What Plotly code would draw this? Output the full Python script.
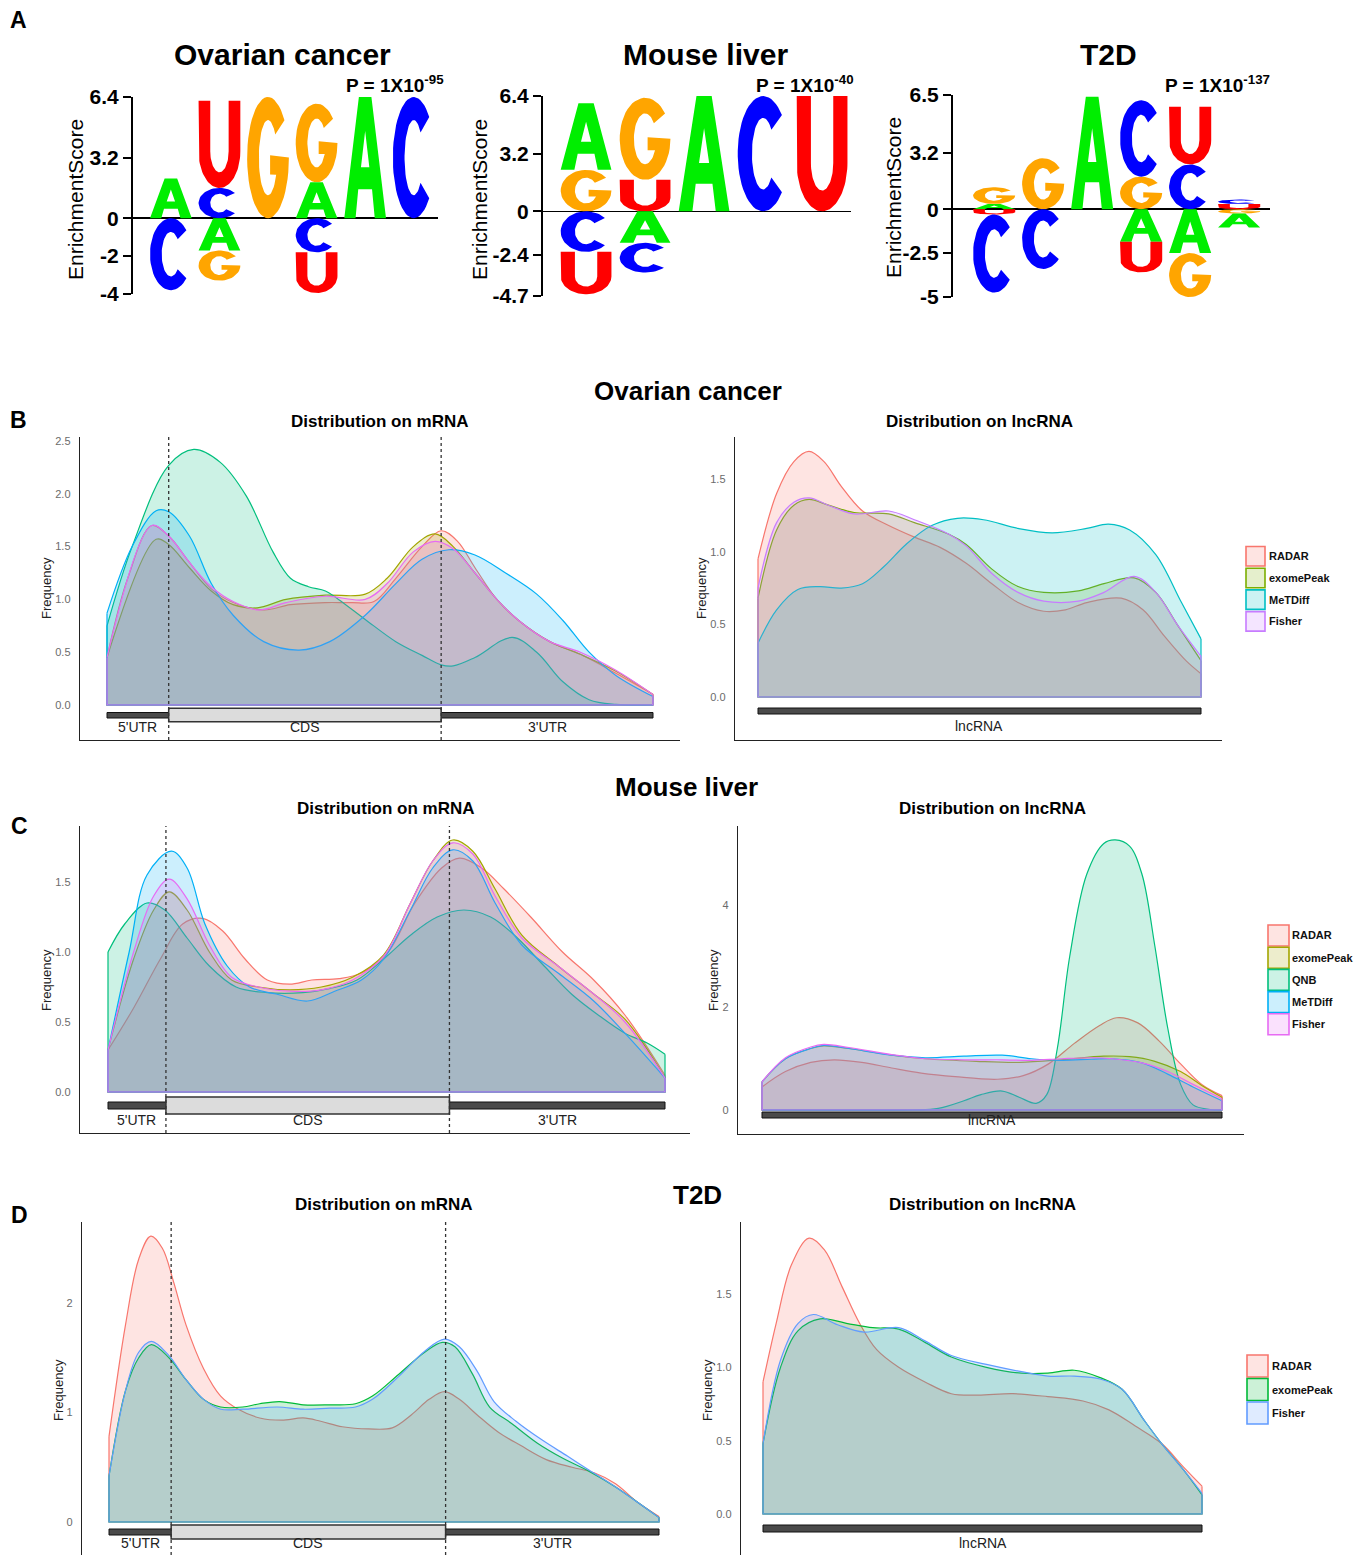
import numpy as np
import plotly.graph_objects as go

W, H = 1366, 1555
SANS = "Liberation Sans, Arial, Helvetica, sans-serif"

# ======================= DATA =======================
# ---- Panel A: motif logos (signed letter heights; + stacks up, - stacks down, in list order)
LETTER_COLORS = {"A": "#00EE00", "C": "#0000FF", "G": "#FFA500", "U": "#FF0000"}

ov_pos = [1, 1, 2, 2, 2, 2, 3, 4, 4, 4, 4, 5, 6]
ov_let = ["A", "C", "C", "U", "A", "G", "G", "A", "G", "C", "U", "A", "C"]
ov_hgt = [2.1, -3.8, 1.6, 4.6, -1.7, -1.6, 6.4, 1.9, 4.15, -1.8, -2.15, 6.4, 6.4]
ov_ticks = [-4, -2, 0, 3.2, 6.4]

ml_pos = [1, 1, 1, 1, 2, 2, 2, 2, 3, 4, 5]
ml_let = ["G", "A", "C", "U", "U", "G", "A", "C", "A", "C", "U"]
ml_hgt = [2.3, 3.7, -2.25, -2.35, 1.75, 4.55, -1.75, -1.65, 6.4, 6.4, 6.4]
ml_ticks = [-4.7, -2.4, 0, 3.2, 6.4]

t2_pos = [1, 1, 1, 1, 2, 2, 3, 4, 4, 4, 4, 5, 5, 5, 5, 6, 6, 6, 6]
t2_let = ["A", "G", "U", "C", "G", "C", "A", "G", "C", "A", "U", "C", "U", "A", "G", "U", "C", "G", "A"]
t2_hgt = [0.3, 0.95, -0.3, -4.45, 2.9, -3.4, 6.4, 1.85, 4.35, -1.85, -1.75,
          2.55, 3.28, -2.5, -2.5, 0.3, 0.25, -0.25, -0.8]
t2_ticks = [-5, -2.5, 0, 3.2, 6.5]

logo_titles = ["Ovarian cancer", "Mouse liver", "T2D"]
logo_pvals = ["P = 1X10<sup>-95</sup>", "P = 1X10<sup>-40</sup>", "P = 1X10<sup>-137</sup>"]

# ---- Panels B-D: metagene density (relative position 0..1, frequency)
PAL5 = ["#F8766D", "#A3A500", "#00BF7D", "#00B0F6", "#E76BF3"]
PAL4 = ["#F8766D", "#7CAE00", "#00BFC4", "#C77CFF"]
PAL3 = ["#F8766D", "#00BA38", "#619CFF"]

B_mrna_bounds = [0.113, 0.612]
B_mrna = {
    "RADAR": [(0, 0.45), (0.038, 1.2), (0.082, 1.7), (0.113, 1.6), (0.151, 1.35), (0.191, 1.1), (0.231, 0.97),
              (0.287, 0.9), (0.336, 0.95), (0.400, 0.97), (0.448, 0.97), (0.489, 0.98), (0.529, 1.2), (0.577, 1.5),
              (0.612, 1.65), (0.642, 1.55), (0.674, 1.3), (0.714, 1.0), (0.754, 0.8), (0.811, 0.6), (0.867, 0.48),
              (0.932, 0.3), (1.0, 0.1)],
    "exomePeak": [(0, 0.45), (0.090, 1.57), (0.113, 1.52), (0.151, 1.3), (0.191, 1.08), (0.231, 0.95), (0.275, 0.92),
                  (0.328, 1.0), (0.400, 1.04), (0.473, 1.05), (0.513, 1.2), (0.561, 1.5), (0.601, 1.62), (0.634, 1.5),
                  (0.674, 1.25), (0.714, 1.0), (0.754, 0.8), (0.811, 0.6), (0.867, 0.48), (0.932, 0.32), (1.0, 0.1)],
    "QNB": [(0, 0.75), (0.046, 1.5), (0.113, 2.27), (0.159, 2.42), (0.207, 2.3), (0.255, 1.98), (0.304, 1.45),
            (0.336, 1.2), (0.369, 1.12), (0.400, 1.08), (0.424, 1.0), (0.473, 0.81), (0.529, 0.6), (0.577, 0.47),
            (0.612, 0.38), (0.634, 0.37), (0.674, 0.45), (0.742, 0.64), (0.787, 0.5), (0.835, 0.22), (0.883, 0.05),
            (0.932, 0.005), (1.0, 0.0)],
    "MeTDiff": [(0, 0.87), (0.046, 1.5), (0.090, 1.84), (0.113, 1.83), (0.151, 1.6), (0.191, 1.15), (0.231, 0.85),
                (0.287, 0.6), (0.352, 0.52), (0.408, 0.6), (0.473, 0.85), (0.529, 1.15), (0.577, 1.38), (0.626, 1.47),
                (0.674, 1.42), (0.730, 1.25), (0.787, 1.05), (0.835, 0.8), (0.883, 0.5), (0.932, 0.28), (1.0, 0.08)],
    "Fisher": [(0, 0.45), (0.082, 1.7), (0.113, 1.6), (0.151, 1.35), (0.191, 1.12), (0.231, 0.98), (0.279, 0.9),
               (0.328, 0.97), (0.400, 1.03), (0.473, 1.0), (0.513, 1.15), (0.561, 1.45), (0.601, 1.55), (0.634, 1.48),
               (0.674, 1.25), (0.714, 1.0), (0.754, 0.8), (0.811, 0.6), (0.867, 0.5), (0.932, 0.33), (1.0, 0.1)],
}

B_lnc = {
    "RADAR": [(0, 0.95), (0.042, 1.4), (0.081, 1.62), (0.115, 1.69), (0.149, 1.62), (0.188, 1.45), (0.236, 1.28),
              (0.295, 1.18), (0.353, 1.1), (0.411, 1.03), (0.470, 0.92), (0.528, 0.78), (0.587, 0.65), (0.645, 0.59),
              (0.694, 0.6), (0.742, 0.65), (0.820, 0.68), (0.869, 0.6), (0.917, 0.42), (0.966, 0.25), (1.0, 0.16)],
    "exomePeak": [(0, 0.68), (0.042, 1.15), (0.081, 1.32), (0.115, 1.36), (0.159, 1.32), (0.217, 1.27), (0.295, 1.26),
                  (0.353, 1.2), (0.431, 1.12), (0.470, 1.05), (0.528, 0.88), (0.587, 0.76), (0.645, 0.72),
                  (0.723, 0.73), (0.781, 0.78), (0.849, 0.82), (0.898, 0.72), (0.946, 0.5), (1.0, 0.25)],
    "MeTDiff": [(0, 0.37), (0.042, 0.6), (0.090, 0.74), (0.139, 0.76), (0.188, 0.75), (0.236, 0.78), (0.285, 0.9),
                (0.334, 1.05), (0.392, 1.18), (0.450, 1.23), (0.509, 1.22), (0.587, 1.16), (0.664, 1.13),
                (0.742, 1.16), (0.791, 1.19), (0.839, 1.15), (0.898, 0.98), (0.956, 0.65), (1.0, 0.4)],
    "Fisher": [(0, 0.75), (0.042, 1.2), (0.081, 1.34), (0.115, 1.37), (0.159, 1.32), (0.217, 1.26), (0.295, 1.28),
               (0.353, 1.22), (0.431, 1.12), (0.470, 1.04), (0.528, 0.85), (0.587, 0.72), (0.645, 0.66),
               (0.723, 0.66), (0.781, 0.72), (0.849, 0.83), (0.898, 0.72), (0.946, 0.5), (1.0, 0.28)],
}

C_mrna_bounds = [0.104, 0.613]
C_mrna = {
    "RADAR": [(0, 0.3), (0.046, 0.6), (0.094, 0.95), (0.134, 1.2), (0.170, 1.24), (0.206, 1.15), (0.246, 0.95),
              (0.286, 0.8), (0.326, 0.77), (0.366, 0.8), (0.415, 0.81), (0.455, 0.85), (0.503, 1.0), (0.551, 1.35),
              (0.599, 1.6), (0.631, 1.67), (0.671, 1.6), (0.711, 1.45), (0.759, 1.25), (0.816, 1.0), (0.872, 0.8),
              (0.928, 0.55), (1.0, 0.12)],
    "exomePeak": [(0, 0.3), (0.046, 0.95), (0.082, 1.3), (0.110, 1.43), (0.142, 1.3), (0.182, 1.0), (0.222, 0.8),
                  (0.270, 0.75), (0.326, 0.73), (0.383, 0.75), (0.439, 0.82), (0.495, 0.98), (0.543, 1.35),
                  (0.583, 1.65), (0.619, 1.8), (0.655, 1.72), (0.695, 1.45), (0.743, 1.12), (0.808, 0.9),
                  (0.872, 0.7), (0.928, 0.52), (1.0, 0.1)],
    "QNB": [(0, 1.0), (0.030, 1.2), (0.070, 1.35), (0.102, 1.3), (0.142, 1.1), (0.182, 0.9), (0.230, 0.75),
            (0.286, 0.71), (0.350, 0.71), (0.399, 0.74), (0.447, 0.8), (0.495, 0.95), (0.543, 1.12), (0.591, 1.25),
            (0.639, 1.3), (0.687, 1.25), (0.735, 1.1), (0.783, 0.9), (0.832, 0.7), (0.880, 0.55), (0.928, 0.42),
            (0.968, 0.35), (1.0, 0.27)],
    "MeTDiff": [(0, 0.3), (0.038, 1.0), (0.070, 1.55), (0.114, 1.72), (0.142, 1.6), (0.174, 1.2), (0.214, 0.9),
                (0.254, 0.75), (0.302, 0.7), (0.358, 0.65), (0.407, 0.72), (0.455, 0.8), (0.495, 0.95),
                (0.543, 1.3), (0.583, 1.6), (0.619, 1.73), (0.655, 1.65), (0.695, 1.35), (0.743, 1.05),
                (0.808, 0.85), (0.872, 0.65), (0.928, 0.42), (1.0, 0.1)],
    "Fisher": [(0, 0.3), (0.046, 1.0), (0.082, 1.4), (0.110, 1.52), (0.142, 1.38), (0.182, 1.05), (0.222, 0.82),
               (0.270, 0.75), (0.326, 0.72), (0.383, 0.73), (0.439, 0.8), (0.495, 0.97), (0.543, 1.35),
               (0.583, 1.65), (0.619, 1.78), (0.655, 1.7), (0.695, 1.4), (0.743, 1.1), (0.808, 0.9), (0.872, 0.7),
               (0.928, 0.5), (1.0, 0.1)],
}

C_lnc = {
    "RADAR": [(0, 0.45), (0.051, 0.75), (0.106, 0.93), (0.157, 0.98), (0.217, 0.93), (0.282, 0.82), (0.346, 0.72),
              (0.420, 0.65), (0.512, 0.6), (0.568, 0.67), (0.623, 0.9), (0.679, 1.3), (0.734, 1.65), (0.771, 1.8),
              (0.817, 1.7), (0.863, 1.35), (0.910, 0.9), (0.956, 0.5), (1.0, 0.28)],
    "exomePeak": [(0, 0.55), (0.051, 1.0), (0.106, 1.2), (0.134, 1.25), (0.189, 1.2), (0.282, 1.07), (0.355, 1.0),
                  (0.466, 0.95), (0.559, 0.93), (0.651, 0.98), (0.743, 1.05), (0.799, 1.04), (0.854, 0.95),
                  (0.910, 0.75), (0.956, 0.48), (1.0, 0.25)],
    "QNB": [(0, 0.0), (0.328, 0.0), (0.383, 0.03), (0.439, 0.18), (0.476, 0.3), (0.522, 0.37), (0.559, 0.25),
            (0.596, 0.13), (0.619, 0.3), (0.642, 1.2), (0.669, 3.0), (0.706, 4.6), (0.743, 5.2), (0.768, 5.27),
            (0.799, 5.15), (0.826, 4.6), (0.854, 3.2), (0.882, 1.6), (0.910, 0.5), (0.937, 0.1), (0.974, 0.01),
            (1.0, 0.0)],
    "MeTDiff": [(0, 0.55), (0.051, 1.0), (0.106, 1.2), (0.134, 1.26), (0.189, 1.2), (0.282, 1.07), (0.355, 1.02),
                (0.439, 1.05), (0.522, 1.07), (0.586, 1.0), (0.651, 0.97), (0.716, 0.99), (0.762, 1.0),
                (0.826, 0.92), (0.882, 0.7), (0.937, 0.45), (1.0, 0.18)],
    "Fisher": [(0, 0.55), (0.051, 1.02), (0.106, 1.23), (0.134, 1.28), (0.189, 1.22), (0.282, 1.08), (0.355, 1.0),
               (0.439, 0.98), (0.522, 0.98), (0.586, 0.97), (0.651, 1.0), (0.716, 1.02), (0.762, 1.0),
               (0.826, 0.92), (0.882, 0.75), (0.937, 0.5), (1.0, 0.22)],
}

D_mrna_bounds = [0.113, 0.612]
D_mrna = {
    "RADAR": [(0, 0.78), (0.030, 1.8), (0.054, 2.4), (0.076, 2.61), (0.097, 2.5), (0.117, 2.2), (0.140, 1.8),
              (0.172, 1.4), (0.203, 1.15), (0.235, 1.03), (0.274, 0.95), (0.314, 0.93), (0.353, 0.95),
              (0.385, 0.92), (0.424, 0.87), (0.472, 0.85), (0.515, 0.86), (0.550, 0.98), (0.582, 1.12),
              (0.610, 1.19), (0.637, 1.12), (0.669, 0.98), (0.708, 0.82), (0.748, 0.7), (0.795, 0.57),
              (0.842, 0.5), (0.882, 0.45), (0.921, 0.35), (0.961, 0.18), (1.0, 0.05)],
    "exomePeak": [(0, 0.42), (0.030, 1.2), (0.054, 1.5), (0.077, 1.62), (0.109, 1.5), (0.140, 1.3), (0.172, 1.12),
                  (0.203, 1.05), (0.243, 1.05), (0.274, 1.08), (0.310, 1.1), (0.353, 1.07), (0.401, 1.07),
                  (0.448, 1.08), (0.479, 1.15), (0.527, 1.35), (0.574, 1.55), (0.606, 1.64), (0.629, 1.6),
                  (0.661, 1.35), (0.692, 1.05), (0.732, 0.9), (0.779, 0.72), (0.826, 0.58), (0.874, 0.46),
                  (0.921, 0.32), (0.961, 0.18), (1.0, 0.04)],
    "Fisher": [(0, 0.42), (0.030, 1.2), (0.054, 1.55), (0.077, 1.65), (0.109, 1.52), (0.140, 1.3), (0.172, 1.12),
               (0.203, 1.03), (0.243, 1.03), (0.306, 1.05), (0.353, 1.03), (0.401, 1.04), (0.448, 1.05),
               (0.479, 1.12), (0.527, 1.33), (0.574, 1.56), (0.610, 1.67), (0.637, 1.6), (0.669, 1.38),
               (0.700, 1.1), (0.740, 0.92), (0.787, 0.75), (0.834, 0.6), (0.874, 0.47), (0.921, 0.32),
               (0.961, 0.18), (1.0, 0.04)],
}

D_lnc = {
    "RADAR": [(0, 0.9), (0.030, 1.3), (0.065, 1.7), (0.105, 1.88), (0.140, 1.8), (0.180, 1.55), (0.220, 1.3),
              (0.259, 1.12), (0.309, 1.0), (0.369, 0.9), (0.429, 0.82), (0.489, 0.81), (0.569, 0.82), (0.649, 0.8),
              (0.729, 0.77), (0.788, 0.71), (0.848, 0.6), (0.908, 0.48), (0.958, 0.32), (1.0, 0.19)],
    "exomePeak": [(0, 0.48), (0.040, 1.0), (0.080, 1.25), (0.130, 1.33), (0.190, 1.3), (0.250, 1.27), (0.309, 1.26),
                  (0.369, 1.17), (0.429, 1.07), (0.509, 1.0), (0.589, 0.96), (0.649, 0.96), (0.709, 0.98),
                  (0.768, 0.93), (0.818, 0.85), (0.868, 0.64), (0.908, 0.48), (0.958, 0.3), (1.0, 0.13)],
    "Fisher": [(0, 0.48), (0.040, 1.05), (0.080, 1.3), (0.115, 1.36), (0.170, 1.29), (0.230, 1.24), (0.309, 1.27),
               (0.369, 1.18), (0.429, 1.08), (0.509, 1.02), (0.589, 0.97), (0.649, 0.94), (0.709, 0.94),
               (0.768, 0.92), (0.818, 0.85), (0.868, 0.64), (0.908, 0.48), (0.958, 0.3), (1.0, 0.14)],
}

B_mrna_ticks = [0, 0.5, 1.0, 1.5, 2.0, 2.5]
B_lnc_ticks = [0, 0.5, 1.0, 1.5]
C_mrna_ticks = [0, 0.5, 1.0, 1.5]
C_lnc_ticks = [0, 2, 4]
D_mrna_ticks = [0, 1, 2]
D_lnc_ticks = [0, 0.5, 1.0, 1.5]

mrna_parts = ["5'UTR", "CDS", "3'UTR"]
section_titles = ["Ovarian cancer", "Mouse liver", "T2D"]

# ======================= HELPERS =======================
def fx(p):
    return p / W


def fy(p):
    return 1 - p / H


def rgba(hexc, a):
    h = hexc.lstrip("#")
    return "rgba(%d,%d,%d,%s)" % (int(h[0:2], 16), int(h[2:4], 16), int(h[4:6], 16), a)


def axn(i):
    s = "" if i == 1 else str(i)
    return "xaxis" + s, "yaxis" + s, "x" + s, "y" + s


def _ell(cx, cy, rx, ry, a0, a1, n=48):
    t = np.radians(np.linspace(a0, a1, n))
    return list(cx + rx * np.cos(t)), list(cy + ry * np.sin(t))


def make_glyphs():
    g = {}
    ox, oy = _ell(.5, .5, .5, .5, 42, 318)
    ix, iy = _ell(.5, .5, .22, .31, 318, 42)
    g["C"] = (ox + ix, oy + iy)
    ox, oy = _ell(.5, .5, .5, .5, 38, 360)
    ix, iy = _ell(.5, .5, .22, .31, 333, 38)
    g["G"] = (ox + [0.55, 0.55] + ix, oy + [0.52, 0.36] + iy)
    ox, oy = _ell(.5, .42, .5, .42, 180, 360)
    ix, iy = _ell(.5, .42, .22, .24, 360, 180)
    g["U"] = ([0.0] + ox + [1.0, 0.72] + ix + [0.28, 0.28, 0.0],
              [1.0] + oy + [1.0, 1.0] + iy + [0.42, 1.0, 1.0])
    ax_ = [0, 0.35, 0.65, 1, 0.73, 0.665, 0.335, 0.40, 0.60, 0.5, 0.40, 0.335, 0.27, 0]
    ay_ = [0, 1, 1, 0, 0, 0.24, 0.24, 0.42, 0.42, 0.72, 0.42, 0.24, 0, 0]
    g["A"] = (ax_, ay_)
    return g


GLYPHS = make_glyphs()

fig = go.Figure()
layout = dict(template="none", width=W, height=H, margin=dict(l=0, r=0, t=0, b=0, pad=0, autoexpand=False),
              paper_bgcolor="white", plot_bgcolor="rgba(0,0,0,0)", showlegend=False,
              font=dict(family=SANS, color="#000"))
shapes = []
annotations = []


def ann(text, x, y, size, bold=False, color="#000", angle=0, xanchor="center", yanchor="middle"):
    annotations.append(dict(text=text, x=fx(x), y=fy(y), xref="paper", yref="paper", showarrow=False,
                            font=dict(family=SANS, size=size, color=color, weight="bold" if bold else "normal"),
                            textangle=angle, xanchor=xanchor, yanchor=yanchor))


# ======================= PANEL A =======================
LOGOS = [
    dict(idx=1, pos=ov_pos, let=ov_let, hgt=ov_hgt, ticks=ov_ticks, xdom=(133, 438), xr=(0.22, 6.5), ytop=97, ybot=294),
    dict(idx=2, pos=ml_pos, let=ml_let, hgt=ml_hgt, ticks=ml_ticks, xdom=(543, 851), xr=(0.27, 5.49), ytop=96, ybot=296),
    dict(idx=3, pos=t2_pos, let=t2_let, hgt=t2_hgt, ticks=t2_ticks, xdom=(953, 1270), xr=(0.16, 6.63), ytop=95, ybot=297),
]
LW = 0.86
for L in LOGOS:
    xa, ya, xr_, yr_ = axn(L["idx"])
    up, dn = {}, {}
    for p, ch, h in zip(L["pos"], L["let"], L["hgt"]):
        if h >= 0:
            b = up.get(p, 0.0)
            t = b + h
            up[p] = t
        else:
            t = dn.get(p, 0.0)
            b = t + h
            dn[p] = b
        gx, gy = GLYPHS[ch]
        xs = [p - LW / 2 + v * LW for v in gx]
        ys = [b + v * (t - b) for v in gy]
        fig.add_trace(go.Scatter(x=xs, y=ys, xaxis=xr_, yaxis=yr_, mode="lines", fill="toself",
                                 fillcolor=LETTER_COLORS[ch], line=dict(width=0, color=LETTER_COLORS[ch]),
                                 hoverinfo="skip", showlegend=False))
    layout[xa] = dict(domain=[fx(L["xdom"][0]), fx(L["xdom"][1])], range=list(L["xr"]), anchor=yr_,
                      visible=False, fixedrange=True, automargin=False)
    layout[ya] = dict(domain=[fy(L["ybot"]), fy(L["ytop"])], range=[L["ticks"][0], L["ticks"][-1]], anchor=xr_,
                      showgrid=False, zeroline=True, zerolinecolor="#000", zerolinewidth=1.6,
                      showline=True, linecolor="#000", linewidth=2, ticks="outside", ticklen=8, tickwidth=2,
                      tickcolor="#000", tickvals=L["ticks"], ticktext=["%g" % v for v in L["ticks"]],
                      tickfont=dict(family=SANS, size=21, color="#000", weight="bold"), fixedrange=True,
                      automargin=False)

ann("A", 18, 20, 23, bold=True)
for title, pv, (tx, ty), (px_, py_), (ex, ey) in zip(
        logo_titles, logo_pvals,
        [(282, 55), (705, 55), (1108, 55)],
        [(446, 84), (856, 84), (1272, 84)],
        [(75, 200), (479, 200), (893, 198)]):
    ann(title, tx, ty, 30, bold=True)
    ann(pv, px_, py_, 19, bold=True, xanchor="right")
    ann("EnrichmentScore", ex, ey, 21, angle=-90)

# ======================= PANELS B-D =======================
DENS = [
    dict(idx=4, data=B_mrna, pal=PAL5, bounds=B_mrna_bounds, ticks=B_mrna_ticks, fmt="%.1f",
         xdom=(80, 680), ydom=(437, 740), px0=107, px1=653, py0=705, ppu=105.6, bottom_line=True,
         utr=(712.5, 718), cds=(708.3, 721.7), lab=727, title=(380, 421), freq=(46, 588)),
    dict(idx=5, data=B_lnc, pal=PAL4, bounds=None, ticks=B_lnc_ticks, fmt="%.1f",
         xdom=(735, 1222), ydom=(437, 740), px0=758, px1=1201, py0=697, ppu=145.3, bottom_line=True,
         bar=(708, 714), lab=726, title=(979, 421), freq=(701, 588),
         legend=dict(x0=1246, x1=1265, top=546.5, h=19.5, step=21.7, tx=1267)),
    dict(idx=6, data=C_mrna, pal=PAL5, bounds=C_mrna_bounds, ticks=C_mrna_ticks, fmt="%.1f",
         xdom=(80, 690), ydom=(826, 1133), px0=108, px1=665, py0=1092, ppu=140.0, bottom_line=True,
         utr=(1102, 1109), cds=(1097, 1114), lab=1120, title=(386, 809), freq=(46, 980)),
    dict(idx=7, data=C_lnc, pal=PAL5, bounds=None, ticks=C_lnc_ticks, fmt="%g",
         xdom=(738, 1244), ydom=(826, 1134), px0=762, px1=1222, py0=1110, ppu=51.25, bottom_line=True,
         bar=(1112, 1118), lab=1120, title=(992, 809), freq=(713, 980),
         legend=dict(x0=1268, x1=1289, top=925, h=21, step=22.2, tx=1290)),
    dict(idx=8, data=D_mrna, pal=PAL3, bounds=D_mrna_bounds, ticks=D_mrna_ticks, fmt="%g",
         xdom=(82, 686), ydom=(1222, 1555), px0=109, px1=659, py0=1522, ppu=109.5, bottom_line=False,
         utr=(1529, 1535), cds=(1525, 1539), lab=1543, title=(384, 1204), freq=(58, 1390)),
    dict(idx=9, data=D_lnc, pal=PAL3, bounds=None, ticks=D_lnc_ticks, fmt="%.1f",
         xdom=(741, 1222), ydom=(1222, 1555), px0=763, px1=1202, py0=1514, ppu=146.7, bottom_line=False,
         bar=(1525, 1532), lab=1543, title=(983, 1204), freq=(707, 1390),
         legend=dict(x0=1247, x1=1268, top=1355, h=22, step=23.5, tx=1270)),
]

for P in DENS:
    xa, ya, xr_, yr_ = axn(P["idx"])
    span = P["px1"] - P["px0"]

    def yv(py, P=P):
        return (P["py0"] - py) / P["ppu"]

    xr = [(P["xdom"][0] - P["px0"]) / span, (P["xdom"][1] - P["px0"]) / span]
    yr = [yv(P["ydom"][1]), yv(P["ydom"][0])]

    for (name, pts), col in zip(P["data"].items(), P["pal"]):
        xs = [q[0] for q in pts]
        ys = [q[1] for q in pts]
        fig.add_trace(go.Scatter(x=xs, y=ys, xaxis=xr_, yaxis=yr_, mode="lines", name=name,
                                 line=dict(color=col, width=1.2, shape="spline", smoothing=1.0),
                                 fill="tozeroy", fillcolor=rgba(col, 0.2), hoverinfo="skip", showlegend=False))
        fig.add_trace(go.Scatter(x=[xs[0], xs[0], xs[-1], xs[-1]], y=[ys[0], 0, 0, ys[-1]], xaxis=xr_, yaxis=yr_,
                                 mode="lines", line=dict(color=col, width=1.2), hoverinfo="skip", showlegend=False))

    layout[xa] = dict(domain=[fx(P["xdom"][0]), fx(P["xdom"][1])], range=xr, anchor=yr_, showgrid=False,
                      zeroline=False, showticklabels=False, ticks="", showline=P["bottom_line"],
                      linecolor="#222", linewidth=1.3, fixedrange=True, automargin=False)
    layout[ya] = dict(domain=[fy(P["ydom"][1]), fy(P["ydom"][0])], range=yr, anchor=xr_, showgrid=False,
                      zeroline=False, showline=True, linecolor="#222", linewidth=1.3, ticks="",
                      tickvals=P["ticks"], ticktext=[P["fmt"] % v for v in P["ticks"]],
                      tickfont=dict(family=SANS, size=11, color="#6b6b6b"), ticklabelstandoff=6,
                      fixedrange=True, automargin=False)

    if P["bounds"] is not None:
        u5, ce = P["bounds"]
        shapes.append(dict(type="rect", xref=xr_, yref=yr_, x0=0, x1=1, y0=yv(P["utr"][1]), y1=yv(P["utr"][0]),
                           fillcolor="#4a4a4a", line=dict(color="#111", width=1), layer="above"))
        shapes.append(dict(type="rect", xref=xr_, yref=yr_, x0=u5, x1=ce, y0=yv(P["cds"][1]), y1=yv(P["cds"][0]),
                           fillcolor="#dcdcdc", line=dict(color="#333", width=1.5), layer="above"))
        for xb in (u5, ce):
            shapes.append(dict(type="line", xref=xr_, yref=yr_ + " domain", x0=xb, x1=xb, y0=0, y1=1,
                               line=dict(color="#333", width=1.3, dash="dot"), layer="above"))
        for txt, xc in zip(mrna_parts, [u5 / 2, (u5 + ce) / 2, (ce + 1) / 2]):
            annotations.append(dict(text=txt, x=xc, y=yv(P["lab"]), xref=xr_, yref=yr_, showarrow=False,
                                    font=dict(family=SANS, size=14, color="#222"), xanchor="center",
                                    yanchor="middle"))
    else:
        shapes.append(dict(type="rect", xref=xr_, yref=yr_, x0=0, x1=1, y0=yv(P["bar"][1]), y1=yv(P["bar"][0]),
                           fillcolor="#4a4a4a", line=dict(color="#111", width=1), layer="above"))
        annotations.append(dict(text="lncRNA", x=0.5, y=yv(P["lab"]), xref=xr_, yref=yr_, showarrow=False,
                                font=dict(family=SANS, size=14, color="#222"), xanchor="center", yanchor="middle"))

    ann("Distribution on " + ("mRNA" if P["bounds"] is not None else "lncRNA"),
        P["title"][0], P["title"][1], 17, bold=True)
    ann("Frequency", P["freq"][0], P["freq"][1], 13, color="#222", angle=-90)

    if "legend" in P:
        Lg = P["legend"]
        for k, (name, col) in enumerate(zip(P["data"].keys(), P["pal"])):
            top = Lg["top"] + k * Lg["step"]
            shapes.append(dict(type="rect", xref="paper", yref="paper", x0=fx(Lg["x0"]), x1=fx(Lg["x1"]),
                               y0=fy(top + Lg["h"]), y1=fy(top), fillcolor=rgba(col, 0.2),
                               line=dict(color=col, width=1.6)))
            ann(name, Lg["tx"], top + Lg["h"] / 2, 11, bold=True, color="#111", xanchor="left")

for t, (x, y) in zip(section_titles, [(688, 391), (686, 787), (697, 1195)]):
    ann(t, x, y, 26, bold=True)
for t, (x, y) in zip(["B", "C", "D"], [(18, 420), (19, 826), (19, 1215)]):
    ann(t, x, y, 23, bold=True)

layout["shapes"] = shapes
layout["annotations"] = annotations
fig.update_layout(**layout)
fig.write_html("out.html", include_plotlyjs=True, config={"displayModeBar": False, "staticPlot": True},
               post_script="document.body.style.margin='0px';")
